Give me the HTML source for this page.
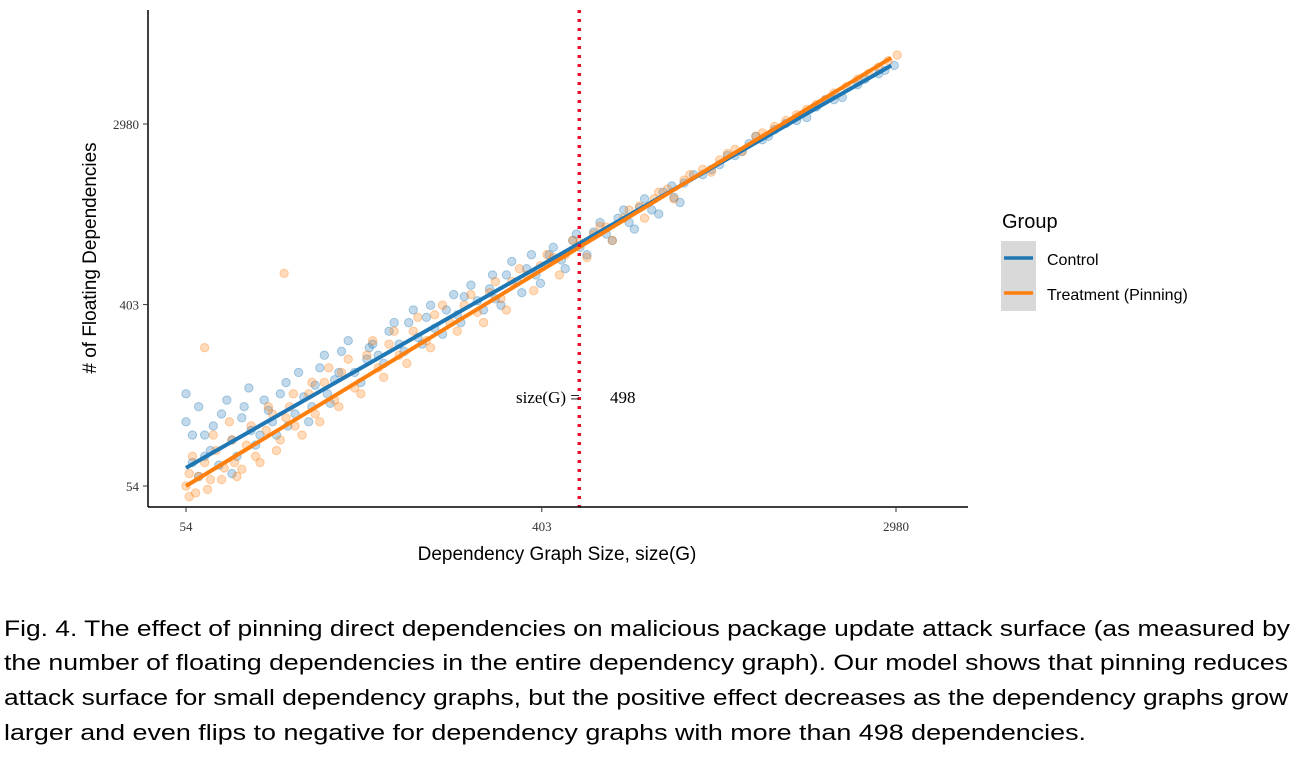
<!DOCTYPE html>
<html><head><meta charset="utf-8"><style>
body{margin:0;background:#fff;width:1296px;height:758px;overflow:hidden}
svg{display:block}
</style></head><body>
<svg id="chart" width="1296" height="758" xmlns="http://www.w3.org/2000/svg" font-family="Liberation Sans, sans-serif">
<g id="points"></g>
<g id="lines"></g>
<line id="thr" y1="10" y2="507" stroke="#e8112d" stroke-width="3.5" stroke-dasharray="3,6"/>
<text x="516" y="403" font-size="17" font-family="Liberation Serif, serif">size(G) =</text>
<text x="610" y="403" font-size="17" font-family="Liberation Serif, serif">498</text>
<line x1="148" y1="10" x2="148" y2="507" stroke="#000" stroke-width="1.5"/>
<line x1="148" y1="507" x2="968" y2="507" stroke="#000" stroke-width="1.5"/>
<g id="ticks" font-family="Liberation Serif, serif" font-size="13" fill="#333"></g>
<text x="557" y="560" font-size="19" text-anchor="middle">Dependency Graph Size, size(G)</text>
<text transform="translate(96,258) rotate(-90)" font-size="19" text-anchor="middle"># of Floating Dependencies</text>
<g>
<text x="1002" y="228" font-size="20">Group</text>
<rect x="1001" y="241" width="35" height="35" fill="#d9d9d9"/>
<rect x="1001" y="276" width="35" height="35" fill="#d9d9d9"/>
<line x1="1004" y1="258" x2="1033" y2="258" stroke="#1f77b4" stroke-width="3.5"/>
<line x1="1004" y1="293" x2="1033" y2="293" stroke="#ff7f0e" stroke-width="3.5"/>
<text x="1047" y="265" font-size="16">Control</text>
<text x="1047" y="300" font-size="16">Treatment (Pinning)</text>
</g>
<g font-size="22" fill="#000">
<text x="4" y="636" textLength="1286" lengthAdjust="spacingAndGlyphs">Fig. 4.  The effect of pinning direct dependencies on malicious package update attack surface (as measured by</text>
<text x="4" y="670" textLength="1284" lengthAdjust="spacingAndGlyphs">the number of floating dependencies in the entire dependency graph). Our model shows that pinning reduces</text>
<text x="4" y="705" textLength="1284" lengthAdjust="spacingAndGlyphs">attack surface for small dependency graphs, but the positive effect decreases as the dependency graphs grow</text>
<text x="4" y="740" textLength="1082" lengthAdjust="spacingAndGlyphs">larger and even flips to negative for dependency graphs with more than 498 dependencies.</text>
</g>
</svg>
<script>
const tickValues=[54,403,2980];
const threshold=498;
const controlX=[54,54,56,58,60,62,65,66,70,72,75,78,80,84,88,90,95,100,105,110,115,120,125,130,140,150,155,160,170,180,190,200,210,220,235,250,260,280,300,310,330,350,370,390,420,450,480,500,540,580,620,660,700,750,800,850,900,1000,1100,1200,1300,1400,1500,1700,1900,2100,2400,2700,2950,
56,58,60,63,68,70,74,77,82,86,92,96,102,108,112,118,122,128,135,145,152,165,175,185,195,205,215,230,245,255,270,290,305,320,340,360,380,400,430,460,490,520,560,600,640,680,720,780,840,880,950,1050,1150,1250,1350,1450,1600,1800,2000,2200,2500,2800];
const controlY=[110,150,70,60,95,80,68,120,90,75,130,100,85,140,110,95,170,120,145,130,200,150,175,240,190,220,260,230,300,260,330,280,350,310,380,360,440,420,480,430,560,520,600,560,700,660,820,760,900,880,1050,1000,1180,1150,1400,1320,1550,1700,1900,2100,2400,2500,2800,3100,3600,3900,4600,5200,5700,
95,130,75,105,140,62,115,160,95,125,150,105,190,110,165,230,135,190,270,170,250,210,330,240,380,260,400,290,450,330,500,380,560,400,650,460,700,510,760,600,880,700,1000,820,1150,930,1300,1100,1500,1250,1700,1800,2100,2200,2600,2600,3000,3200,3900,4000,4900,5400];
const treatX=[54,55,57,60,60,62,64,67,70,72,76,80,85,88,92,94,97,100,108,112,118,125,130,140,150,160,170,180,195,210,220,240,260,280,300,320,340,370,400,430,460,500,540,580,640,700,760,820,900,1000,1100,1200,1350,1500,1700,1900,2100,2400,2700,3000,
55,56,58,61,63,66,69,71,74,78,82,86,90,95,99,104,110,115,121,128,135,145,155,165,175,188,200,215,230,250,270,290,310,330,355,385,415,445,480,520,560,600,660,720,780,850,930,1050,1150,1250,1400,1600,1800,2000,2250,2550,2850];
const treatY=[54,62,50,70,250,58,80,66,90,60,85,75,100,120,90,570,130,105,150,120,170,140,190,160,230,200,260,230,300,270,360,330,400,370,460,430,520,560,620,680,700,800,880,950,1050,1200,1300,1450,1600,1800,2000,2250,2600,2900,3300,3700,4200,4900,5600,6400,
48,75,60,52,95,58,110,70,65,105,70,130,80,115,150,95,170,110,200,130,220,150,270,180,300,210,350,250,400,300,450,330,520,380,600,470,700,560,820,680,960,820,1150,1050,1400,1300,1700,1750,2150,2200,2700,3100,3500,3900,4500,5200,6000];
const controlFit=[[54,66],[2900,5700]];
const treatFit=[[54,54],[2900,6200]];
const NS='http://www.w3.org/2000/svg';
const L=Math.log10;
function xs(v){return 186+(L(v)-L(54))/(L(2980)-L(54))*710;}
function ys(v){return 486-(L(v)-L(54))/(L(2980)-L(54))*362;}
const pts=document.getElementById('points');
function dots(X,Y,c,name){for(let i=0;i<X.length;i++){const e=document.createElementNS(NS,'circle');


e.setAttribute('cx',xs(X[i]));e.setAttribute('cy',ys(Y[i]));e.setAttribute('r',4.2);e.setAttribute('fill',c);e.setAttribute('fill-opacity',0.28);e.setAttribute('stroke',c);e.setAttribute('stroke-opacity',0.35);pts.appendChild(e);}}
dots(controlX,controlY,'#1f77b4','control-point');
dots(treatX,treatY,'#ff7f0e','treatment-point');
const lg=document.getElementById('lines');
function fit(f,c,name){const e=document.createElementNS(NS,'line');


e.setAttribute('x1',xs(f[0][0]));e.setAttribute('y1',ys(f[0][1]));e.setAttribute('x2',xs(f[1][0]));e.setAttribute('y2',ys(f[1][1]));e.setAttribute('stroke',c);e.setAttribute('stroke-width',4);lg.appendChild(e);}
fit(controlFit,'#1f77b4','control-fit-line');
fit(treatFit,'#ff7f0e','treatment-fit-line');
const thr=document.getElementById('thr');thr.setAttribute('x1',xs(threshold));thr.setAttribute('x2',xs(threshold));
const tg=document.getElementById('ticks');
tickValues.forEach(v=>{
 let t=document.createElementNS(NS,'line');
 
 
 t.setAttribute('x1',xs(v));t.setAttribute('x2',xs(v));t.setAttribute('y1',507);t.setAttribute('y2',512);t.setAttribute('stroke','#333');tg.appendChild(t);
 let s=document.createElementNS(NS,'text');
 
 
 s.setAttribute('x',xs(v));s.setAttribute('y',531);s.setAttribute('text-anchor','middle');s.textContent=v;tg.appendChild(s);
 t=document.createElementNS(NS,'line');
 
 
 t.setAttribute('x1',143);t.setAttribute('x2',148);t.setAttribute('y1',ys(v));t.setAttribute('y2',ys(v));t.setAttribute('stroke','#333');tg.appendChild(t);
 s=document.createElementNS(NS,'text');
 
 
 s.setAttribute('x',139);s.setAttribute('y',ys(v)+5);s.setAttribute('text-anchor','end');s.textContent=v;tg.appendChild(s);
});
</script>
</body></html>
